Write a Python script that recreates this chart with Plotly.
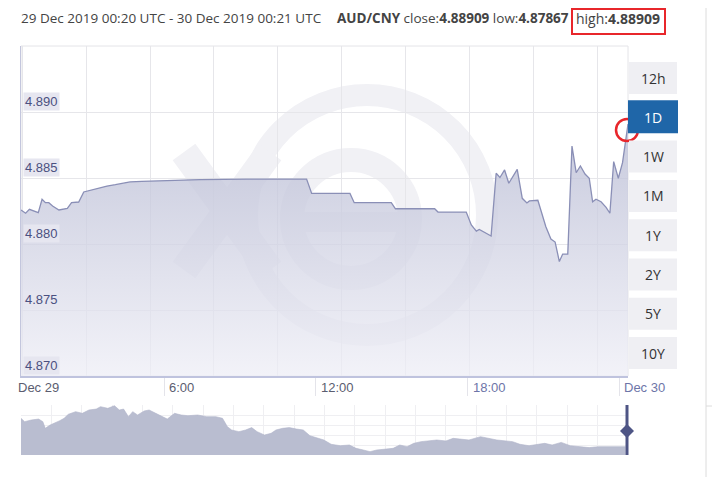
import plotly.graph_objects as go

# ---------------- data ----------------
times_dec29 = ["00:20", "00:31", "00:40", "00:48", "01:01", "01:10", "01:18", "01:26", "01:35", "01:50",
               "02:02", "02:10", "02:20", "02:37", "02:49", "03:01", "03:17", "03:32", "03:44", "04:04",
               "04:20", "04:39", "05:07", "06:14", "07:25", "09:16", "11:38", "11:50", "13:21", "13:31",
               "14:59", "15:09", "16:42", "16:50", "17:57", "18:09", "18:21", "18:28", "18:56", "19:08",
               "19:17", "19:28", "19:38", "19:58", "20:10", "20:21", "20:27", "20:47", "21:06", "21:18",
               "21:28", "21:38", "21:46", "21:58", "22:08", "22:18", "22:28", "22:39", "22:49", "22:57",
               "23:05", "23:17", "23:29", "23:38", "23:47", "23:58"]
times_dec30 = ["00:08", "00:21"]
rates = [4.88258, 4.88233, 4.88263, 4.88252, 4.88237, 4.88339, 4.88313, 4.88313, 4.88288, 4.88258,
         4.88267, 4.88270, 4.88313, 4.88318, 4.88394, 4.88404, 4.88419, 4.88430, 4.88439, 4.88449,
         4.88460, 4.88470, 4.88475, 4.88483, 4.88488, 4.88492, 4.88492, 4.88383, 4.88383, 4.88313,
         4.88313, 4.88267, 4.88267, 4.88242, 4.88242, 4.88144, 4.88098, 4.88110, 4.88061, 4.88536,
         4.88504, 4.88561, 4.88460, 4.88566, 4.88346, 4.88311, 4.88326, 4.88331, 4.88131, 4.88038,
         4.88015, 4.87867, 4.87924, 4.87924, 4.88742, 4.88540, 4.88591, 4.88530, 4.88498, 4.88320,
         4.88339, 4.88320, 4.88278, 4.88233, 4.88624, 4.88498, 4.88616, 4.88909]

y_ticks = [4.870, 4.875, 4.880, 4.885, 4.890]
y_tick_labels = ["4.870", "4.875", "4.880", "4.885", "4.890"]
x_tick_times = ["2019-12-29 06:00", "2019-12-29 12:00", "2019-12-29 18:00", "2019-12-30 00:00"]
x_tick_labels = ["6:00", "12:00", "18:00", "Dec 30"]
x_first_label = "Dec 29"

nav_years = [2010.00, 2010.06, 2010.17, 2010.29, 2010.36, 2010.40, 2010.48, 2010.55, 2010.63, 2010.71,
             2010.78, 2010.90, 2011.01, 2011.12, 2011.24, 2011.31, 2011.43, 2011.54, 2011.62, 2011.69,
             2011.77, 2011.84, 2011.92, 2012.03, 2012.11, 2012.22, 2012.34, 2012.41, 2012.53, 2012.64,
             2012.75, 2012.91, 2013.06, 2013.21, 2013.32, 2013.40, 2013.47, 2013.59, 2013.70, 2013.80,
             2013.89, 2014.01, 2014.12, 2014.20, 2014.31, 2014.42, 2014.54, 2014.65, 2014.76, 2014.88,
             2014.99, 2015.11, 2015.26, 2015.41, 2015.52, 2015.64, 2015.75, 2015.86, 2016.02, 2016.13,
             2016.24, 2016.36, 2016.47, 2016.59, 2016.70, 2016.85, 2017.00, 2017.12, 2017.23, 2017.38,
             2017.57, 2017.69, 2017.84, 2017.99, 2018.10, 2018.22, 2018.37, 2018.52, 2018.63, 2018.75,
             2018.90, 2019.05, 2019.20, 2019.36, 2019.51, 2019.66, 2019.81, 2019.96]
nav_rates = [6.08, 5.94, 6.01, 6.05, 5.94, 5.66, 5.80, 5.87, 5.97, 6.08,
             6.25, 6.36, 6.29, 6.43, 6.47, 6.57, 6.50, 6.61, 6.43, 6.47,
             6.15, 6.36, 6.22, 6.39, 6.43, 6.29, 6.15, 6.05, 6.29, 6.22,
             6.19, 6.22, 6.15, 6.15, 6.08, 5.73, 5.59, 5.52, 5.59, 5.69,
             5.52, 5.38, 5.45, 5.59, 5.66, 5.69, 5.63, 5.59, 5.35, 5.27,
             5.17, 4.99, 4.93, 4.96, 4.82, 4.75, 4.68, 4.75, 4.79, 4.82,
             4.96, 4.89, 5.03, 5.10, 5.13, 5.17, 5.13, 5.24, 5.21, 5.17,
             5.31, 5.24, 5.17, 5.13, 5.10, 4.99, 4.93, 4.99, 5.03, 4.96,
             5.07, 4.93, 4.89, 4.85, 4.89, 4.89, 4.92, 4.89]

range_buttons = ["12h", "1D", "1W", "1M", "1Y", "2Y", "5Y", "10Y"]
active_button = "1D"

header_range = "29 Dec 2019 00:20 UTC - 30 Dec 2019 00:21 UTC"
pair = "AUD/CNY"
close_v, low_v, high_v = "4.88909", "4.87867", "4.88909"

# ---------------- helpers ----------------
W, H = 720, 477
OFF = 8  # page body margin
def X(px):
    return (px - OFF) / W
def Y(py):
    return 1 - (py - OFF) / H

times = ["2019-12-29 " + t for t in times_dec29] + ["2019-12-30 " + t for t in times_dec30]

fig = go.Figure()

fig.add_trace(go.Scatter(
    x=times, y=rates, mode="lines",
    line=dict(color="#8a8fb6", width=1.3),
    fill="tozeroy",
    fillgradient=dict(type="vertical", start=4.870, stop=4.8875,
                      colorscale=[[0, "rgba(238,238,246,0.75)"], [1, "rgba(188,191,214,0.78)"]]),
    hoverinfo="skip", xaxis="x", yaxis="y",
))

fig.add_trace(go.Scatter(
    x=nav_years, y=nav_rates, mode="lines",
    line=dict(color="#b0b4c9", width=0.6),
    fill="tozeroy", fillcolor="#b9bdd0",
    hoverinfo="skip", xaxis="x2", yaxis="y2",
))

shapes = []
annotations = []

# watermark (xe logo), below traces
wm = "#f1f1f5"
shapes.append(dict(type="circle", xref="paper", yref="paper", layer="below",
                   x0=X(247), x1=X(487), y0=Y(95), y1=Y(335),
                   line=dict(color=wm, width=22)))
shapes.append(dict(type="line", xref="paper", yref="paper", layer="below",
                   x0=X(184), y0=Y(152), x1=X(270), y1=Y(270), line=dict(color=wm, width=28)))
shapes.append(dict(type="line", xref="paper", yref="paper", layer="below",
                   x0=X(270), y0=Y(152), x1=X(184), y1=Y(270), line=dict(color=wm, width=28)))
shapes.append(dict(type="circle", xref="paper", yref="paper", layer="below",
                   x0=X(292), x1=X(410), y0=Y(160), y1=Y(278),
                   line=dict(color=wm, width=24)))
shapes.append(dict(type="rect", xref="paper", yref="paper", layer="below",
                   x0=X(292), x1=X(410), y0=Y(212), y1=Y(232),
                   line=dict(width=0), fillcolor=wm))

# plot border
shapes.append(dict(type="rect", xref="x domain", yref="y domain", layer="below",
                   x0=0, x1=1, y0=0, y1=1, line=dict(color="#e4e4e8", width=1)))

# y labels with boxes
for v, lab in zip(y_ticks, y_tick_labels):
    annotations.append(dict(x=X(23), y=v, xref="paper", yref="y", xanchor="left", yanchor="bottom",
                            text=lab, showarrow=False, yshift=1,
                            font=dict(family="Liberation Sans, Arial", size=13, color="#4b5080"),
                            bgcolor="#e6e6f0", borderpad=1))

# x labels
annotations.append(dict(x=X(16), y=Y(378), xref="paper", yref="paper", xanchor="left", yanchor="top",
                        text=x_first_label, showarrow=False,
                        font=dict(family="Liberation Sans, Arial", size=13, color="#5b5d70")))
label_colors = ["#5b5d70", "#5b5d70", "#6d75a8", "#6d75a8"]
for t, lab, c in zip(x_tick_times, x_tick_labels, label_colors):
    annotations.append(dict(x=t, y=Y(378), xref="x", yref="paper", xanchor="left", yanchor="top",
                            text=lab, showarrow=False, xshift=3,
                            font=dict(family="Liberation Sans, Arial", size=13, color=c)))

# header
annotations.append(dict(x=X(19), y=Y(18), xref="paper", yref="paper", xanchor="left", yanchor="middle",
                        text=header_range, showarrow=False,
                        font=dict(family="Open Sans", size=13.5, color="#444444")))
hdr2 = f"<b>{pair}</b> close:<b>{close_v}</b> low:<b>{low_v}</b>"
annotations.append(dict(x=X(335), y=Y(18), xref="paper", yref="paper", xanchor="left", yanchor="middle",
                        text=hdr2, showarrow=False,
                        font=dict(family="Open Sans", size=13.5, color="#444444")))
hdr3 = f"high:<b>{high_v}</b>"
annotations.append(dict(x=X(574), y=Y(18), xref="paper", yref="paper", xanchor="left", yanchor="middle",
                        text=hdr3, showarrow=False,
                        font=dict(family="Open Sans", size=14, color="#444444")))
shapes.append(dict(type="rect", xref="paper", yref="paper", x0=X(572), x1=X(665), y0=Y(9), y1=Y(34),
                   line=dict(color="#e8262b", width=2)))

# red circle around last point
shapes.append(dict(type="circle", xref="paper", yref="paper", x0=X(616), x1=X(638), y0=Y(119), y1=Y(141),
                   line=dict(color="#e8262b", width=2.5)))

# range buttons
for i, b in enumerate(range_buttons):
    top = 62 + i * 39.3
    active = b == active_button
    x0, x1 = (628, 678) if active else (629, 677)
    shapes.append(dict(type="rect", xref="paper", yref="paper", x0=X(x0), x1=X(x1),
                       y0=Y(top - (1 if active else 0)), y1=Y(top + 32),
                       line=dict(width=0), fillcolor="#1f66a8" if active else "#efeff3"))
    annotations.append(dict(x=X(653), y=Y(top + 16), xref="paper", yref="paper", text=b, showarrow=False,
                            xanchor="center", yanchor="middle",
                            font=dict(family="Open Sans", size=14, color="#ffffff" if active else "#333333")))

# navigator handle
shapes.append(dict(type="rect", xref="paper", yref="paper", x0=X(625.5), x1=X(628.5), y0=Y(455), y1=Y(405),
                   line=dict(width=0), fillcolor="#4e5585"))
shapes.append(dict(type="path", xref="paper", yref="paper",
                   path=f"M {X(620)},{Y(431)} L {X(627)},{Y(424)} L {X(634)},{Y(431)} L {X(627)},{Y(438)} Z",
                   line=dict(width=0), fillcolor="#4e5585"))

# page separators on the right
shapes.append(dict(type="line", xref="paper", yref="paper", x0=X(706), x1=X(706), y0=0, y1=1.02,
                   line=dict(color="#dcdcdc", width=1)))
shapes.append(dict(type="line", xref="paper", yref="paper", x0=X(706), x1=1, y0=Y(406), y1=Y(406),
                   line=dict(color="#dcdcdc", width=1)))

fig.update_layout(
    width=W, height=H, margin=dict(l=0, r=0, t=0, b=0),
    paper_bgcolor="white", plot_bgcolor="white", showlegend=False,
    xaxis=dict(domain=[X(21), X(628)], type="date", anchor="y",
               range=["2019-12-29 00:20", "2019-12-30 00:21"],
               tickmode="array", tickvals=x_tick_times, showticklabels=False,
               ticks="outside", ticklen=18, tickcolor="#e4e4ea", tickwidth=1,
               showgrid=False, zeroline=False,
               showline=True, linecolor="#bfc3de", linewidth=1.5,
               minor=dict(tickmode="linear", tick0="2019-12-29 02:55", dtick=9094737,
                          showgrid=True, gridcolor="#e6e6ea", gridwidth=1, ticks="")),
    yaxis=dict(domain=[Y(376), Y(46)], range=[4.870, 4.895], anchor="x",
               tickmode="array", tickvals=y_ticks, showticklabels=False,
               showgrid=True, gridcolor="#e6e6ea", zeroline=False, ticks="",
               showline=True, linecolor="#c3c6dd", linewidth=1),
    xaxis2=dict(domain=[X(21), X(628)], anchor="y2", range=[2010, 2020],
                showticklabels=False, showgrid=True, dtick=0.5, gridcolor="#efeff2",
                zeroline=False, ticks=""),
    yaxis2=dict(domain=[Y(455), Y(405)], anchor="x2", range=[4.54, 6.64],
                showticklabels=False, showgrid=True, tick0=4.54, dtick=0.42, gridcolor="#efeff2",
                zeroline=False, ticks=""),
    shapes=shapes, annotations=annotations,
)

fig.write_html("out.html")
